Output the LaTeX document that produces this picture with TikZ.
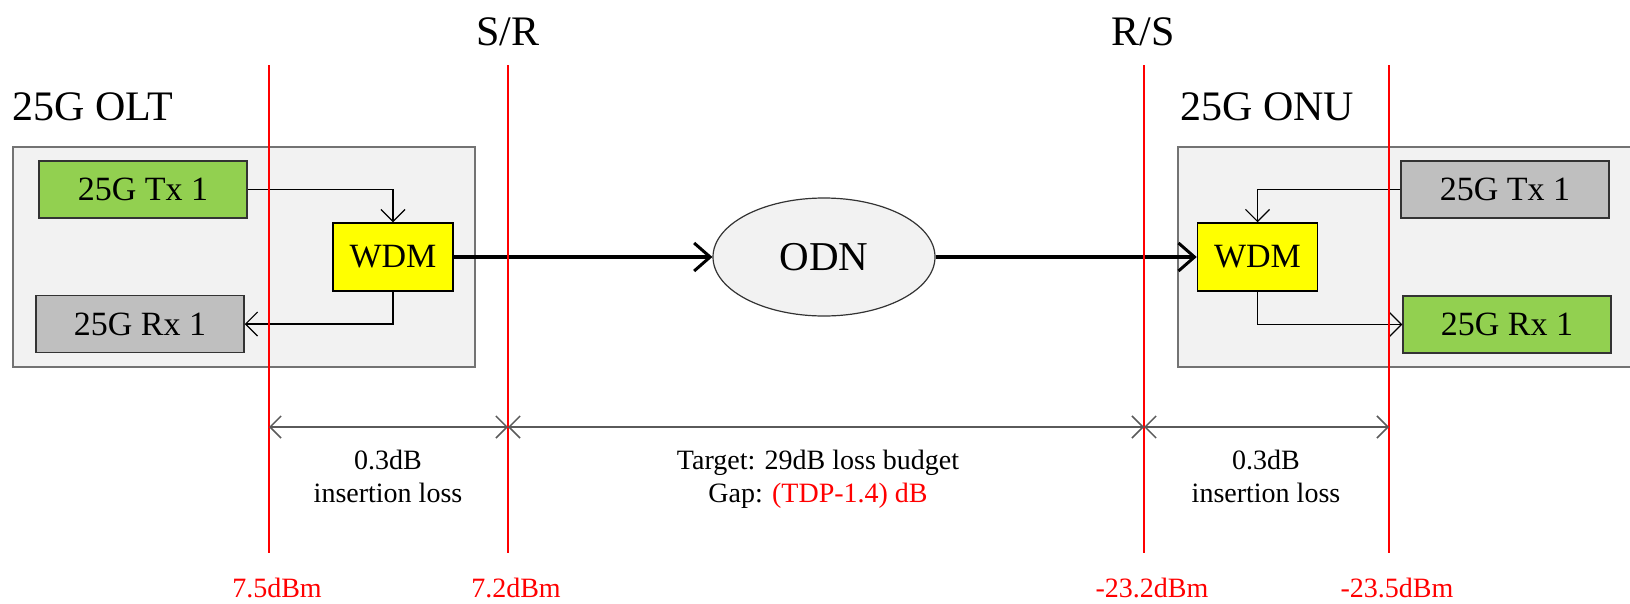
\documentclass[tikz,border=0pt]{standalone}
\usepackage{fontspec}
\setmainfont{Liberation Serif}
\usetikzlibrary{shapes,arrows.meta,positioning}

\definecolor{txgreen}{HTML}{92D050}
\definecolor{offgray}{HTML}{BFBFBF}
\definecolor{wdmyellow}{HTML}{FFFF00}
\definecolor{shelfgray}{HTML}{F2F2F2}
\definecolor{spangray}{HTML}{5A5A5A}

\tikzstyle{trx} = [rectangle, draw=black!80, line width=1.5pt, minimum width=208pt,
    minimum height=57pt, inner sep=0pt, font=\fontsize{34}{40}\selectfont]
\tikzstyle{wdm} = [rectangle, draw=black, fill=wdmyellow, line width=1.5pt,
    minimum width=120pt, minimum height=68pt, inner sep=0pt, font=\fontsize{34}{40}\selectfont]
\tikzstyle{shelf} = [draw=black!55, fill=shelfgray, line width=2pt]
\tikzstyle{refplane} = [red, line width=1.5pt]
\tikzstyle{budget} = [draw=spangray, line width=2.5pt,
    {Straight Barb[length=11pt,width=22pt,line width=1.5pt]}-{Straight Barb[length=11pt,width=22pt,line width=1.5pt]}]
\tikzstyle{fibre} = [-{Straight Barb[length=16pt,width=28pt,line width=3pt]}, line width=3.5pt]
\tikzstyle{lane} = [-{Straight Barb[length=12pt,width=24pt,line width=1.2pt]}, line width=1.5pt]
\tikzstyle{lossnote} = [align=center, inner sep=0pt, font=\fontsize{28}{33}\selectfont]
\tikzstyle{dbm} = [red, inner sep=0pt, font=\fontsize{28}{33}\selectfont]
\tikzstyle{heading} = [inner sep=0pt, font=\fontsize{42}{48}\selectfont]

\begin{document}
\begin{tikzpicture}[x=1pt,y=-1pt]
  \useasboundingbox (0,0) rectangle (1630,603);

  \draw[shelf] (13,147) rectangle (475,367);
  \draw[shelf] (1178,147) rectangle (1660,367);
  \node[heading, anchor=base west] (oltname) at (12,120) {25G OLT};
  \node[heading, anchor=base west] (onuname) at (1180,120) {25G ONU};

  \node[trx, fill=txgreen]  (olttx)  at (143,189.5) {25G Tx 1};
  \node[trx, fill=offgray]  (oltrx)  at (140,324)   {25G Rx 1};
  \node[wdm]                (oltwdm) at (393,257)   {WDM};

  \node[wdm]                (onuwdm) at (1257.5,257) {WDM};
  \node[trx, fill=offgray]  (onutx)  at (1505,189.5) {25G Tx 1};
  \node[trx, fill=txgreen]  (onurx)  at (1507,324.5) {25G Rx 1};

  \node[ellipse, draw=black!80, fill=shelfgray, line width=1.2pt, minimum width=222pt,
        minimum height=118pt, inner sep=0pt, font=\fontsize{41}{48}\selectfont] (odn) at (824,257) {ODN};

  \draw[lane] (olttx.east) -| (oltwdm.north);
  \draw[lane] (oltwdm.south) |- (oltrx.east);
  \draw[lane] (onutx.west) -| (onuwdm.north);
  \draw[lane] (onuwdm.south) |- (onurx.west);

  \draw[fibre] (oltwdm) -- (odn);
  \draw[fibre] (odn) -- (onuwdm);

  % reference planes
  \foreach \x/\p in {269/ola, 508/sr, 1144/rs, 1389/onp} {
    \coordinate (\p-top) at (\x,65);
    \coordinate (\p-bot) at (\x,553);
    \coordinate (\p-mid) at (\x,427);
    \draw[refplane] (\p-top) -- (\p-bot);
  }

  \draw[budget] (ola-mid) -- (sr-mid);
  \draw[budget] (sr-mid) -- (rs-mid);
  \draw[budget] (rs-mid) -- (onp-mid);

  \node[heading, anchor=base] (srname) at (508,45) {S/R};
  \node[heading, anchor=base] (rsname) at (1143,45) {R/S};

  \node[lossnote, anchor=north] (oltloss) at (388,450) {0.3dB\\insertion loss};
  \node[lossnote, anchor=north] (odnloss) at (818,450) {Target: 29dB loss budget\\Gap: \textcolor{red}{(TDP-1.4) dB}};
  \node[lossnote, anchor=north] (onuloss) at (1266,450) {0.3dB\\insertion loss};

  \node[dbm, below=25pt of ola-bot, xshift=8pt] (olapower) {7.5dBm};
  \node[dbm, below=25pt of sr-bot, xshift=8pt]  (srpower)  {7.2dBm};
  \node[dbm, below=25pt of rs-bot, xshift=8pt]  (rspower)  {-23.2dBm};
  \node[dbm, below=25pt of onp-bot, xshift=8pt] (onppower) {-23.5dBm};
\end{tikzpicture}
\end{document}
